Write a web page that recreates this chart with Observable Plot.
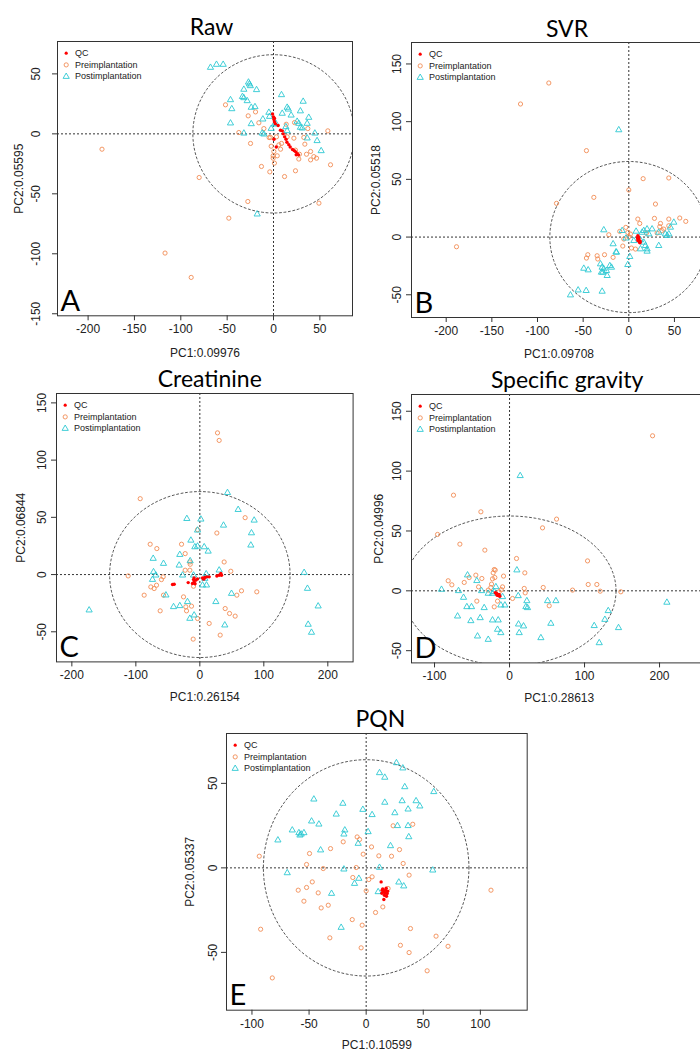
<!DOCTYPE html>
<html><head><meta charset="utf-8">
<script src="https://cdn.jsdelivr.net/npm/d3@7"></script>
<script src="https://cdn.jsdelivr.net/npm/@observablehq/plot@0.6"></script>
<style>
html,body{margin:0;padding:0;background:#fff;overflow:hidden;width:700px;height:1052px;}
#page{position:relative;width:700px;height:1052px;overflow:hidden;}
.panel{position:absolute;}
</style></head><body><div id="page"></div>
<script>
// ---------- data (PC1, PC2 scores) ----------
const legendLabels = ["QC", "Preimplantation", "Postimplantation"];

const rawQC = [[-1,16.5],[0,14],[0.5,12],[1,10],[2,8.5],[5,7],[7.5,3],[9.5,2.5],[10.5,0],[12,-2.5],[13.5,-4.5],[14.5,-7],[16.5,-9],[18,-11],[20.5,-13],[22.5,-14],[24,-15],[25.5,-16.5],[27,-17.5],[24.5,-17.5],[0.5,-4.5],[3,-11],[1,13]];
const rawPre = [[-185,-12.8],[-51.8,24.2],[-27.3,15],[-19.4,18.3],[-15.8,9.2],[-37.4,1.1],[-24.8,-8],[-10.4,4.4],[-4.7,-3.1],[-2.5,-10.3],[0.4,-14.7],[-0.4,-18.3],[1,-24.4],[-13,-27.2],[-4,-31.7],[11.9,-35.6],[23.7,-30.8],[5.8,-9.2],[8.6,-8],[13.7,8],[14.7,-2.5],[22,-3.6],[22.7,9.4],[23.7,-13.6],[27.3,-21],[37,4.4],[32.7,-3],[33.8,-8.6],[40,-14.7],[35.6,-17],[43.5,-19],[46.4,-20.3],[40,-21.7],[58.6,2.5],[61.5,-25.8],[49,-57.8],[-80.2,-36.4],[-27.7,-56.4],[-48.2,-70.3],[-117,-99.4],[-88.8,-119.7],[-3.2,-3],[3.2,-2.5],[4,-18.3],[7.6,-12.8],[28,-17],[-0.4,-20.3]];
const rawPost = [[-68,55.3],[-61.5,57.8],[-54.3,57.8],[-27,43],[-26,41.5],[-25,40],[-32,37],[-18.3,36.7],[-33.5,31],[-32,30],[-28.4,27.5],[-46.4,28.3],[-45,20.8],[-24,22],[-20,22.5],[-46.4,8.9],[-24,8.3],[-32,0.5],[-11.5,12.2],[-4.3,14.4],[-5,17.8],[8.6,32.5],[32,27],[14.7,22],[16,20.5],[9.4,17],[19,15.5],[29,19],[25.5,10.3],[27.3,8.6],[38,13.6],[36.3,8.6],[29,5.3],[31,4.7],[13.3,5.8],[14.7,2.5],[1,8],[2.5,8.6],[-12.2,0.5],[-10.4,-0.3],[44.6,0.5],[36.3,-3.6],[47,-5.8],[51.4,-14.2],[-17.6,-67],[-2.5,4.4]];

const svrQC = [[9.9,1.2],[9.9,-1.7],[11.3,-3.2],[12,-4.6],[10.5,0],[10.8,-2.5],[11.5,-4],[10,-3],[12.5,-3.5],[9.5,-0.5],[11,-1],[12.2,-5]];
const svrPre = [[-188.7,-8.4],[-87.6,133.5],[-118.6,115.3],[-46.4,74.9],[-38.3,34.4],[-79.2,29.2],[0,40.8],[15.7,50.6],[43.8,51.2],[29.2,28.6],[9.9,15.6],[12,11.8],[28.1,16.2],[43.8,15.6],[55.8,16.5],[62.4,13.6],[34.7,11.8],[33.9,9],[36.5,5.5],[38.3,6.9],[43.8,9.8],[19.3,3.5],[31,3.5],[-3.3,8.4],[-9.9,4.9],[-1.1,4],[1.8,2.6],[0,0.3],[-5.5,-1.7],[-21.9,2],[-6.6,-7.8],[2.9,-9.5],[7.3,-10.4],[-44.9,-15.3],[-34.7,-16.2],[-34,-19],[-26.6,-15.3],[-46.4,-18.2],[-17.2,-17.6]];
const svrPost = [[-11,92.8],[-27.4,6.1],[-7.3,5.5],[8,4.9],[14.6,4],[16.4,5.5],[20,6.9],[25.5,6.9],[21.9,2.6],[32.8,4],[40,2.6],[45.6,8.4],[49.3,12.7],[43.8,2.6],[42,1.2],[5.5,-3.2],[12.8,-2.6],[16.4,-4.6],[18.2,-7.5],[20,-10.4],[12.8,-10.4],[20,-12.4],[32.8,-7.5],[-17.2,-6],[-13.5,-13.3],[1.1,-17],[-1.1,-24],[-31,-23.4],[-29.2,-26.3],[-27.4,-27.7],[-24.5,-29.2],[-20.8,-24.9],[-19,-26.3],[-23.7,-33.5],[-30,-30.6],[-28.5,-30.6],[-49.3,-27.2],[-44.5,-28.6],[-55.5,-46],[-46.7,-46.5],[-63.9,-50.3],[-29.2,-47.1],[-3,-1],[-14,-13]];

const creatQC = [[-42.7,-8.7],[-40.1,-8.4],[-18.2,-7],[-9.9,-4.4],[-8.9,-6.4],[-6.3,-4.9],[-11.5,-7.8],[-3.6,-3.8],[4.2,-2.9],[7.8,-2.6],[10.9,-2],[14.6,-2],[26.6,-1.2],[30.2,-0.6],[32.8,0.9],[33.9,-0.6],[-7.5,-8],[-9,-3],[6,-4]];
const creatPre = [[27.6,123.8],[30.2,117.2],[-93.2,66.3],[70.8,49.7],[26.6,36.3],[-3.6,39.2],[-77.6,26.5],[-67.2,22.7],[-28.6,26.5],[-22.9,18.3],[-15.6,11],[-22.9,3.8],[-15.6,3.8],[38,11],[48.4,2.9],[-112,-1.2],[-67.7,-9.3],[-71.4,-12.2],[-76.6,-10.8],[-87,-18],[-56.8,-18],[-60,-4.4],[-57.3,-2],[-62,-31.7],[-25.5,-19.5],[-21.9,-28.2],[-20.8,-31.7],[-13,-27.6],[-3.6,-38.4],[14.6,-42.7],[-10.4,-56.4],[31.8,-52.9],[39.6,-29.7],[46.4,-34],[55.2,-36.3],[65.1,-14.2],[57.8,-18],[89,-15.1],[-9.9,-10.2],[-15,9]];
const creatPost = [[-173,-31.1],[43.2,71.5],[59.9,56.7],[84.9,47.4],[80.7,36.3],[79.7,25.6],[37,43],[-20.3,48.8],[1.6,48.3],[-3.6,38.7],[-14,29.9],[-7.8,24.1],[-3.6,24.7],[6.8,24.1],[13,20.3],[-31.3,17.4],[-15.1,11.9],[-72.9,14],[-56.8,9.6],[-32.3,8.1],[-72.4,2.3],[-68.8,-0.6],[-74,-4.4],[-27,-0.6],[-53,-18],[-41.1,-28.2],[-31.3,-27.3],[-19.3,-23.8],[-15.6,-38.4],[-8.9,-35.5],[4.2,-9.3],[10.4,-9.3],[7.8,-3.5],[30.2,3.8],[-9.9,-0.6],[25,-23.8],[39,-44.2],[49.5,-16.6],[163,1.7],[168.2,-12.2],[184.9,-27.6],[169.3,-43.6],[174.5,-50.6],[9.9,0.5]];

const sgQC = [[-19,-1.5],[-17,-2.5],[-15,-3.5],[-14,-4],[-16,-3],[-13,-4.5],[-15,-4],[-14,-3],[-18,-2],[-16.5,-3.8]];
const sgPre = [[190.7,129.5],[-74.7,79.9],[-38.2,66],[-96,47.1],[-66.2,39],[-32.9,34],[44,52.6],[62.7,59.9],[9.3,27],[20.4,15],[104,25],[104.9,5.3],[116.4,5.3],[120.9,-0.3],[84,0.6],[148.4,-0.8],[44.9,2.8],[19.6,2],[20.9,-1.7],[52.9,-12.5],[4,-6.4],[-81.8,8.4],[-76.9,5],[-60.4,7],[-53.8,11.1],[-44.9,13.1],[-36.9,10.3],[-41.3,3.3],[-43.6,-8.6],[-21.8,15],[-20.4,17.8],[-19.1,17.3],[-22.7,10],[-19.6,11.1],[-24,5.6],[-24.9,2.8],[-8,12.3],[-9.3,3.3],[-13.8,-0.8],[-16,-8.6],[-20.4,-13.4],[-28.4,0.6],[-11,1]];
const sgPost = [[14.2,96.1],[9.8,17.3],[11.6,-4.2],[23.1,-8.4],[21.8,-13.4],[24,-14.2],[18.7,-29.5],[12,-27.9],[12.9,-35.1],[41.8,-39.3],[50.7,-8.4],[61.8,-8.4],[55.1,-27.3],[112.9,-29.2],[119.6,-43.5],[127.1,-24],[131.6,-16.7],[145.3,-30.9],[209.8,-9.7],[-90.7,1.1],[-68,0],[-61.3,-5.6],[-56.9,-13.4],[-50.7,-13.4],[-69.3,-21.2],[-51.6,-25.1],[-56,13.1],[-43.6,8.4],[-37.3,0],[-33.8,-14.2],[-39.1,-22.6],[-42.7,-37.9],[-28.4,-40.7],[-28.4,-2.2],[-22.7,-2.2],[-18.2,3.3],[-20.4,-0.8],[-9.3,-5],[-11.6,-12],[-6.2,-12],[-22.7,-24.5],[-15.1,-24.5],[-16,-32.3],[-11.6,-35.1]];

const pqnQC = [[13.1,-8.3],[14,-13.2],[15.5,-14.2],[16.9,-13.2],[18.4,-15.2],[16,-16.2],[17.8,-16.8],[15.5,-18.7],[14.5,-12.5],[17.5,-12],[16.5,-14.8],[13.8,-15],[18.8,-13.8]];
const pqnPre = [[-93.6,6.9],[-92.4,-36.3],[-82.2,-65.1],[109.3,-13.2],[-49.6,8.5],[-52.2,2],[-37.6,-0.4],[-31.2,11.4],[-20.1,15.4],[-7.9,18.3],[-5.8,16.8],[-2.6,8.1],[4.7,12.4],[11.1,7.1],[22.2,6.9],[29.2,10.8],[32.4,2.6],[37.6,-4.3],[23.6,24.9],[40.8,25.8],[-8.7,0.2],[-11.7,-5.7],[5.2,-5.3],[2.3,-6.9],[0,-13.6],[19.2,-12.2],[14.6,-23.1],[8.2,-26.4],[-12.2,-30.6],[-3.5,-33.9],[-4.4,-47.3],[-47.2,-8.3],[-52.2,-11.6],[-59.5,-13.2],[-42,-14.8],[-54.5,-19.7],[-33.2,-22.1],[-39.4,-23.7],[-31.8,-41.4],[30,-45.8],[38.8,-35.9],[37.6,-50.1],[61.2,-40.4],[71.7,-46.4],[53.4,-60.9]];
const pqnPost = [[26.5,62.1],[32.1,59],[11.7,56.2],[16.3,53.5],[33.8,47.9],[59.2,45],[-45.8,40.6],[-20.4,38.1],[31.5,39.6],[43.7,39.6],[47,36.5],[36.7,34.7],[16.3,38.7],[-2.9,34.5],[5.2,31.4],[25.1,32.5],[-26.2,31.7],[-47.8,27.6],[-41.4,25.8],[-64.7,22.3],[-58.9,20.7],[-56.9,19.9],[-54.5,20.7],[-58,19.3],[-77.3,16.4],[-18.7,22.3],[-19.5,19.9],[-7,14.4],[1.7,21.3],[27.4,24.9],[36.7,24.9],[37.3,18.3],[21.3,13],[-39.9,10.5],[-69.1,-3],[-19.5,-0.8],[11.7,0.2],[58.3,-1.4],[-6.4,-6.3],[-10.2,-9.3],[28.6,-8.5],[32.9,-10.8],[-30.3,-15.2],[10.5,-14.2],[-21.9,-35.3]];

// panel texts and ticks
const titles = ["Raw", "SVR", "Creatinine", "Specific gravity", "PQN"];
const letters = ["A", "B", "C", "D", "E"];
const xLabels = ["PC1:0.09976", "PC1:0.09708", "PC1:0.26154", "PC1:0.28613", "PC1:0.10599"];
const yLabels = ["PC2:0.05595", "PC2:0.05518", "PC2:0.06844", "PC2:0.04996", "PC2:0.05337"];
const xTicks = [[-200,-150,-100,-50,0,50],[-200,-150,-100,-50,0,50],[-200,-100,0,100,200],[-100,0,100,200],[-100,-50,0,50,100]];
const yTicks = [[-150,-100,-50,0,50],[-50,0,50,100,150],[-50,0,50,100,150],[-50,0,50,100,150],[-50,0,50]];
// confidence ellipse [cx, cy, semi-axis x, semi-axis y]
const ellipses = [[0,0,87,66],[0,0,86.5,65.5],[0,0,141,72.5],[0,0,142,62.5],[0,0,90,64]];
const seriesQC = [rawQC, svrQC, creatQC, sgQC, pqnQC];
const seriesPre = [rawPre, svrPre, creatPre, sgPre, pqnPre];
const seriesPost = [rawPost, svrPost, creatPost, sgPost, pqnPost];

// ---------- layout (page pixels) ----------
const layout = [
  {left:57,    top:40.7,  fw:295,   fh:274.3, xd:[-233,85.2],   yd:[-151.7,77],   tDx:6.5, xlOff:37, ylOff:38.7, ytOff:21},
  {left:411,   top:41.7,  fw:295,   fh:275,   xd:[-238,85.1],   yd:[-69.7,168.6], tDx:8,   xlOff:37, ylOff:35,   ytOff:14.5},
  {left:55.7,  top:393.3, fw:296.6, fh:268.4, xd:[-224,239.5],  yd:[-76.3,158.2], tDx:5,   xlOff:35, ylOff:35.7, ytOff:14},
  {left:410.7, top:394.3, fw:295.3, fh:268.4, xd:[-130.7,263],  yd:[-60.2,164],   tDx:8,   xlOff:35, ylOff:32.4, ytOff:14.5},
  {left:226,   top:733.3, fw:300.7, fh:276.7, xd:[-122.3,141],  yd:[-84.2,79.5],  tDx:3.6, xlOff:35, ylOff:36,   ytOff:13}
];

const ORANGE = "#F28C55", CYAN = "#2DC8D2", RED = "#FF0000";
const SANS = "'Liberation Sans', Arial, sans-serif";
const TITLEF = "Lato, 'Open Sans', sans-serif";
const M = {l:70, t:50, r:12, b:50};
const page = document.getElementById("page");

for (let i = 0; i < 5; i++) {
  const L = layout[i];
  const [cx, cy, rx, ry] = ellipses[i];
  const ell = d3.range(0, 361, 2).map(a => ({x: cx + rx*Math.cos(a*Math.PI/180), y: cy + ry*Math.sin(a*Math.PI/180)}));
  const legendSymbols = [
    {r:1.6, fill:RED, stroke:"none", symbol:"circle"},
    {r:2.1, fill:"none", stroke:ORANGE, symbol:"circle"},
    {r:2.3, fill:"none", stroke:CYAN, symbol:"triangle"}
  ];
  const legendMarks = [];
  legendLabels.forEach((lab, k) => {
    const s = legendSymbols[k];
    legendMarks.push(Plot.dot([lab], {frameAnchor:"top-left", dx:8.7, dy:11.7 + k*11.7, r:s.r, fill:s.fill, stroke:s.stroke, symbol:s.symbol, strokeWidth:0.9}));
    legendMarks.push(Plot.text([lab], {text:d=>d, frameAnchor:"top-left", dx:17.5, dy:11.7 + k*11.7, textAnchor:"start", lineAnchor:"middle", fontSize:9, fontFamily:SANS, fill:"#222"}));
  });
  const W = L.fw + M.l + M.r, H = L.fh + M.t + M.b;
  const plot = Plot.plot({
    width: W, height: H,
    marginLeft: M.l, marginTop: M.t, marginRight: M.r, marginBottom: M.b,
    x: {domain: L.xd, axis: null},
    y: {domain: L.yd, axis: null},
    style: {fontFamily: SANS, fontSize: "12px", color: "#222"},
    marks: [
      Plot.line(ell, {x:"x", y:"y", stroke:"#555", strokeDasharray:"2,2.5", strokeWidth:1, clip:true}),
      Plot.ruleX([0], {stroke:"#333", strokeDasharray:"2,2", strokeWidth:1}),
      Plot.ruleY([0], {stroke:"#333", strokeDasharray:"2,2", strokeWidth:1}),
      Plot.dot(seriesPre[i], {x:d=>d[0], y:d=>d[1], r:2.1, fill:"none", stroke:ORANGE, strokeWidth:0.9, clip:true}),
      Plot.dot(seriesPost[i], {x:d=>d[0], y:d=>d[1], r:2.3, symbol:"triangle", fill:"none", stroke:CYAN, strokeWidth:0.9, clip:true}),
      Plot.dot(seriesQC[i], {x:d=>d[0], y:d=>d[1], r:1.7, fill:RED, stroke:"none", clip:true}),
      Plot.frame({stroke:"#333", strokeWidth:1}),
      Plot.axisX({ticks: xTicks[i], tickSize:5, tickPadding:4, tickFormat:d=>String(d), label:null, fontSize:12, fontFamily:SANS, stroke:"#333"}),
      Plot.axisY({ticks: yTicks[i], tickSize:5, tickFormat:()=>"", label:null, stroke:"#333"}),
      Plot.text(yTicks[i], {y:d=>d, text:d=>String(d), frameAnchor:"left", dx:-L.ytOff, rotate:-90, textAnchor:"middle", lineAnchor:"middle", fontSize:12, fontFamily:SANS}),
      Plot.text([xLabels[i]], {text:d=>d, frameAnchor:"bottom", dy:L.xlOff, lineAnchor:"middle", fontSize:12, fontFamily:SANS}),
      Plot.text([yLabels[i]], {text:d=>d, frameAnchor:"left", dx:-L.ylOff, rotate:-90, textAnchor:"middle", lineAnchor:"middle", fontSize:12, fontFamily:SANS}),
      Plot.text([titles[i]], {text:d=>d, frameAnchor:"top", dx:L.tDx, dy:-6, lineAnchor:"bottom", fontFamily:TITLEF, fontSize:23, fill:"#000"}),
      Plot.text([letters[i]], {text:d=>d, frameAnchor:"bottom-left", dx:3, dy:-5, lineAnchor:"bottom", textAnchor:"start", fontFamily:TITLEF, fontSize:29, fill:"#000"}),
      ...legendMarks
    ]
  });
  plot.style.maxWidth = "none";
  plot.style.background = "transparent";
  plot.style.overflow = "visible";
  const div = document.createElement("div");
  div.className = "panel";
  div.style.left = (L.left - M.l) + "px";
  div.style.top = (L.top - M.t) + "px";
  div.style.width = W + "px";
  div.style.height = H + "px";
  div.appendChild(plot);
  page.appendChild(div);
}
</script>
</body></html>
